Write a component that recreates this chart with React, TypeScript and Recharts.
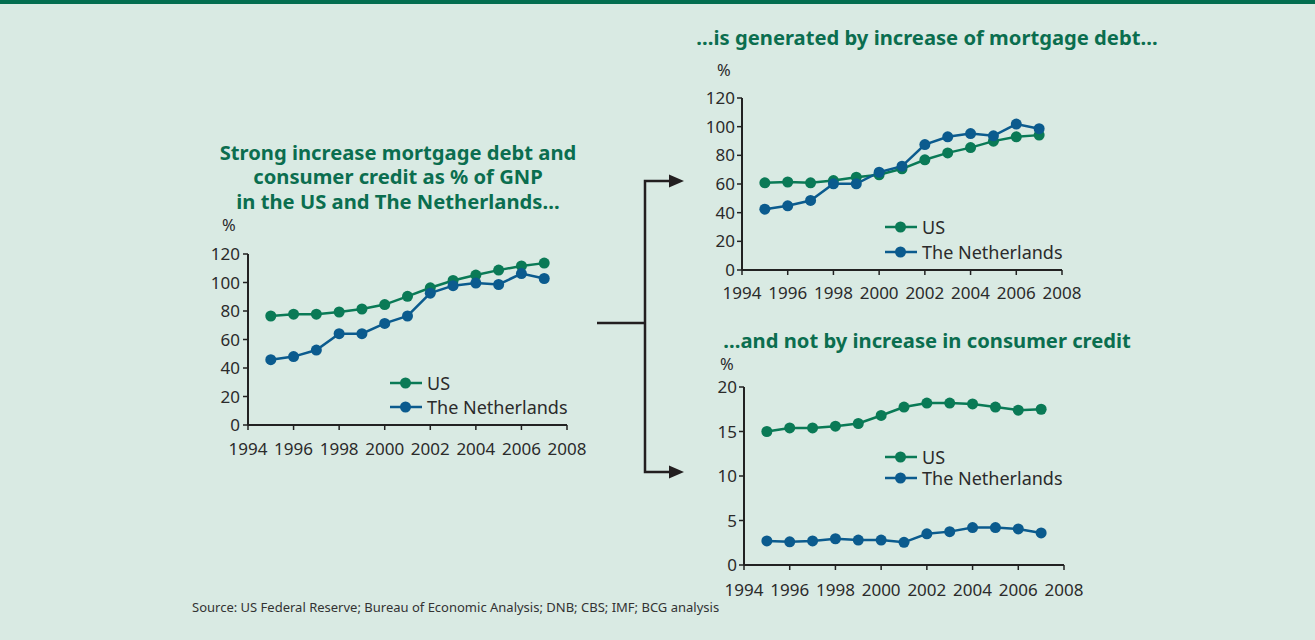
import React from 'react';
import { LineChart, Line, XAxis, YAxis, Legend } from 'recharts';

const years = [1995, 1996, 1997, 1998, 1999, 2000, 2001, 2002, 2003, 2004, 2005, 2006, 2007];
const totalUS = [76.5, 77.8, 77.8, 79.3, 81.4, 84.5, 90.3, 96.3, 101.4, 105.2, 108.7, 111.6, 113.6];
const totalNL = [45.8, 48, 52.6, 64.1, 64.1, 71.3, 76.5, 92.5, 97.8, 99.6, 98.6, 106.3, 102.8];
const mortgageUS = [60.8, 61.4, 60.8, 62.4, 64.7, 66.4, 70.6, 76.9, 81.7, 85.4, 89.9, 92.9, 94.1];
const mortgageNL = [42.4, 44.8, 48.5, 60.1, 60.1, 68.2, 72.4, 87.5, 92.9, 95.2, 93.6, 101.8, 98.6];
const consumerUS = [15.0, 15.4, 15.4, 15.6, 15.9, 16.8, 17.75, 18.2, 18.2, 18.1, 17.75, 17.4, 17.5];
const consumerNL = [2.7, 2.6, 2.7, 2.95, 2.8, 2.8, 2.55, 3.5, 3.75, 4.2, 4.2, 4.05, 3.6];

const xTicks = [1994, 1996, 1998, 2000, 2002, 2004, 2006, 2008];
const yTicksPct = [0, 20, 40, 60, 80, 100, 120];
const yTicksConsumer = [0, 5, 10, 15, 20];
const seriesNames = ['US', 'The Netherlands'];

const titleMain = ['Strong increase mortgage debt and', 'consumer credit as % of GNP', 'in the US and The Netherlands…'];
const titleMortgage = '…is generated by increase of mortgage debt…';
const titleConsumer = '…and not by increase in consumer credit';
const sourceText = 'Source: US Federal Reserve; Bureau of Economic Analysis; DNB; CBS; IMF; BCG analysis';

const GREEN = '#0a7a56';
const BLUE = '#0b5b8e';
const TITLE = '#0b6e4f';
const BG = '#d9eae3';
const TEXT = '#2b2b2b';
const AXIS = '#222222';
const FONT = '"Noto Sans", "Open Sans", sans-serif';

const build = (us: number[], nl: number[]) =>
  years.map((y, i) => ({ year: y, US: us[i], NL: nl[i] }));

const LegendBox = (props: any) => {
  const { payload, rowHeight } = props;
  const items = [...(payload || [])].sort(
    (a: any, b: any) => seriesNames.indexOf(a.value) - seriesNames.indexOf(b.value)
  );
  return (
    <div style={{ fontFamily: FONT }}>
      {items.map((p: any) => (
        <div key={p.value} style={{ display: 'flex', alignItems: 'center', height: rowHeight }}>
          <svg width={33} height={14} style={{ display: 'block' }}>
            <line x1={0} y1={7} x2={32} y2={7} stroke={p.color} strokeWidth={2.5} />
            <circle cx={15.5} cy={7} r={5.5} fill={p.color} />
          </svg>
          <span style={{ marginLeft: 4, fontSize: 18, color: TEXT, lineHeight: 1 }}>{p.value}</span>
        </div>
      ))}
    </div>
  );
};

type PanelProps = {
  left: number;
  top: number;
  width: number;
  height: number;
  marginRight: number;
  us: number[];
  nl: number[];
  yDomain: [number, number];
  yTicks: number[];
  legendLeft: number;
  legendTop: number;
  legendRow: number;
  xTickMargin: number;
  yTickMargin: number;
};

const Panel = (p: PanelProps) => {
  const data = build(p.us, p.nl);
  const tickStyle = { fill: TEXT, fontSize: 17, fontFamily: FONT };
  return (
    <div style={{ position: 'absolute', left: p.left, top: p.top }}>
      <LineChart
        width={p.width}
        height={p.height}
        data={data}
        margin={{ top: 20, right: p.marginRight, bottom: 5, left: 0 }}
      >
        <XAxis
          dataKey="year"
          type="number"
          domain={[1994, 2008]}
          ticks={xTicks}
          interval={0}
          tick={tickStyle}
          tickSize={5}
          tickMargin={p.xTickMargin}
          axisLine={{ stroke: AXIS, strokeWidth: 2 }}
          tickLine={{ stroke: AXIS, strokeWidth: 1.5 }}
          allowDecimals={false}
        />
        <YAxis
          width={48}
          type="number"
          domain={p.yDomain}
          ticks={p.yTicks}
          interval={0}
          tick={tickStyle}
          tickSize={5}
          tickMargin={p.yTickMargin}
          axisLine={{ stroke: AXIS, strokeWidth: 2 }}
          tickLine={{ stroke: AXIS, strokeWidth: 1.5 }}
        />
        <Legend
          layout="vertical"
          align="center"
          verticalAlign="middle"
          wrapperStyle={{ left: p.legendLeft, top: p.legendTop, width: 220, height: 'auto' }}
          content={(lp: any) => <LegendBox {...lp} rowHeight={p.legendRow} />}
        />
        <Line
          dataKey="US"
          name="US"
          stroke={GREEN}
          strokeWidth={2.5}
          dot={{ r: 5.5, fill: GREEN, stroke: GREEN, strokeWidth: 0 }}
          activeDot={false}
          isAnimationActive={false}
        />
        <Line
          dataKey="NL"
          name="The Netherlands"
          stroke={BLUE}
          strokeWidth={2.5}
          dot={{ r: 5.5, fill: BLUE, stroke: BLUE, strokeWidth: 0 }}
          activeDot={false}
          isAnimationActive={false}
        />
      </LineChart>
    </div>
  );
};

const pctStyle = (left: number, top: number): React.CSSProperties => ({
  position: 'absolute',
  left,
  top,
  fontSize: 16.5,
  color: TEXT,
  fontFamily: FONT,
  lineHeight: '18px',
});

const titleStyle = (left: number, top: number, lh: string): React.CSSProperties => ({
  position: 'absolute',
  left,
  top,
  width: 640,
  textAlign: 'center',
  color: TITLE,
  fontWeight: 700,
  fontSize: 20.2,
  lineHeight: lh,
  whiteSpace: 'nowrap',
});

export default function App() {
  return (
    <div
      style={{
        position: 'absolute',
        left: 0,
        top: 0,
        width: 1315,
        height: 640,
        background: BG,
        overflow: 'hidden',
        fontFamily: FONT,
      }}
    >
      <div style={{ position: 'absolute', left: 0, top: 0, width: 1315, height: 4, background: '#036e50' }} />

      <div style={titleStyle(78, 139.5, '24.5px')}>
        {titleMain.map((t) => (
          <div key={t}>{t}</div>
        ))}
      </div>
      <div style={titleStyle(607, 23.5, '26px')}>{titleMortgage}</div>
      <div style={titleStyle(607, 326.5, '26px')}>{titleConsumer}</div>

      <div style={pctStyle(222, 216)}>%</div>
      <div style={pctStyle(717, 61)}>%</div>
      <div style={pctStyle(720, 355)}>%</div>

      <Panel
        left={200}
        top={234}
        width={390}
        height={226}
        marginRight={23}
        us={totalUS}
        nl={totalNL}
        yDomain={[0, 120]}
        yTicks={yTicksPct}
        legendLeft={190}
        legendTop={137}
        legendRow={24}
        xTickMargin={13}
        yTickMargin={3}
      />
      <Panel
        left={694}
        top={78}
        width={390}
        height={227}
        marginRight={22}
        us={mortgageUS}
        nl={mortgageNL}
        yDomain={[0, 120]}
        yTicks={yTicksPct}
        legendLeft={191}
        legendTop={136.5}
        legendRow={25}
        xTickMargin={12}
        yTickMargin={2}
      />
      <Panel
        left={696}
        top={367}
        width={390}
        height={233}
        marginRight={22}
        us={consumerUS}
        nl={consumerNL}
        yDomain={[0, 20]}
        yTicks={yTicksConsumer}
        legendLeft={189}
        legendTop={79.5}
        legendRow={21}
        xTickMargin={14}
        yTickMargin={2}
      />

      <svg
        width={1315}
        height={640}
        style={{ position: 'absolute', left: 0, top: 0, pointerEvents: 'none' }}
      >
        <g stroke="#231f20" strokeWidth={2.5} fill="none">
          <line x1={597} y1={323} x2={645} y2={323} />
          <polyline points="670,181 645,181 645,472 670,472" />
        </g>
        <polygon points="669,174.5 684,181 669,187.5" fill="#231f20" />
        <polygon points="669,465.5 684,472 669,478.5" fill="#231f20" />
      </svg>

      <div
        style={{
          position: 'absolute',
          left: 192,
          top: 598,
          fontSize: 13,
          lineHeight: '18px',
          color: '#333',
          whiteSpace: 'nowrap',
        }}
      >
        {sourceText}
      </div>
    </div>
  );
}
